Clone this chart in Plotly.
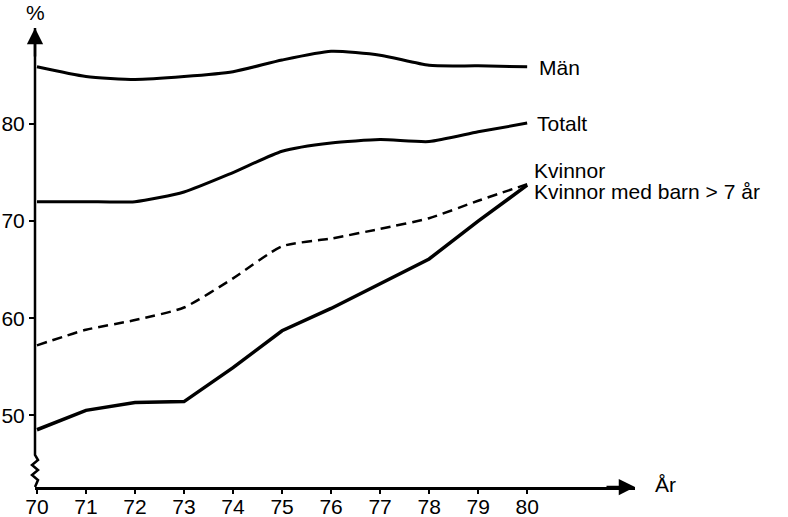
import plotly.graph_objects as go

years = [70, 71, 72, 73, 74, 75, 76, 77, 78, 79, 80]
man = [85.9, 84.9, 84.6, 84.9, 85.4, 86.6, 87.5, 87.1, 86.05, 86.0, 85.9]
totalt = [72.0, 72.0, 72.0, 73.0, 75.0, 77.2, 78.05, 78.4, 78.2, 79.2, 80.1]
kvinnor = [57.2, 58.8, 59.8, 61.1, 64.1, 67.4, 68.2, 69.2, 70.3, 72.1, 73.8]
kvinnor_barn = [48.5, 50.5, 51.3, 51.4, 54.9, 58.7, 61.0, 63.6, 66.1, 70.0, 73.7]

series_names = ["Män", "Totalt", "Kvinnor", "Kvinnor med barn > 7 år"]
y_ticks = [50, 60, 70, 80]
x_ticks = years

FONT = "Liberation Sans, Arial, sans-serif"
FS = 21

fig = go.Figure()
line = dict(color="black", width=3, shape="spline", smoothing=0.6)
fig.add_trace(go.Scatter(x=years, y=man, mode="lines", line=line, name=series_names[0]))
fig.add_trace(go.Scatter(x=years, y=totalt, mode="lines", line=line, name=series_names[1]))
fig.add_trace(go.Scatter(x=years, y=kvinnor, mode="lines",
                         line=dict(color="black", width=2.5, dash="10px,6px", shape="spline", smoothing=0.6),
                         name=series_names[2]))
fig.add_trace(go.Scatter(x=years, y=kvinnor_barn, mode="lines",
                         line=dict(color="black", width=3.5, shape="linear"), name=series_names[3]))

# line labels
fig.add_annotation(x=80.2, y=85.85, text=series_names[0], xref="x", yref="y",
                   xanchor="left", yanchor="middle", showarrow=False)
fig.add_annotation(x=80.16, y=80.1, text=series_names[1], xref="x", yref="y",
                   xanchor="left", yanchor="middle", showarrow=False)
fig.add_annotation(x=80.1, y=75.2, text=series_names[2], xref="x", yref="y",
                   xanchor="left", yanchor="middle", showarrow=False)
fig.add_annotation(x=80.1, y=73.1, text=series_names[3], xref="x", yref="y",
                   xanchor="left", yanchor="middle", showarrow=False)

# axis titles at arrow ends
fig.add_annotation(x=0, y=1.0, xref="paper", yref="paper", text="%", showarrow=False,
                   xanchor="center", yanchor="bottom", yshift=2)
fig.add_annotation(x=1.0, y=0, xref="paper", yref="paper", text="År", showarrow=False,
                   xanchor="left", yanchor="middle", xshift=18, yshift=3)

# arrows
fig.add_annotation(x=0, y=1.0, xref="paper", yref="paper", ax=0, ay=30,
                   showarrow=True, arrowhead=2, arrowsize=1.3, arrowwidth=2.5, arrowcolor="black", text="")
fig.add_annotation(x=1.0, y=0, xref="paper", yref="paper", ax=-30, ay=0,
                   showarrow=True, arrowhead=2, arrowsize=1.3, arrowwidth=2.5, arrowcolor="black", text="")

# y axis line with wavy break near bottom
h = 459.0
w = 600.0
def py(px):
    return (487 - px) / h
def pxx(d):
    return d / w
path = f"M 0 {py(28)} L 0 {py(455)}"
zig = [(3, 460), (-3, 465), (3, 470), (-3, 475), (3, 480), (0, 487)]
for dx, yy in zig:
    path += f" L {pxx(dx)} {py(yy)}"
fig.add_shape(type="path", path=path, xref="paper", yref="paper",
              line=dict(color="black", width=2.5))

fig.update_layout(
    width=788, height=517,
    margin=dict(l=35, r=153, t=28, b=30),
    paper_bgcolor="white", plot_bgcolor="white",
    showlegend=False,
    font=dict(family=FONT, size=FS, color="black"),
)
fig.update_xaxes(range=[69.96, 82.2], tickvals=x_ticks, ticktext=[str(v) for v in x_ticks],
                 automargin=False,
                 showgrid=False, zeroline=False, showline=True, linecolor="black", linewidth=2.5,
                 ticks="outside", ticklen=4, tickwidth=2, tickcolor="black",
                 ticklabelstandoff=-5,
                 tickfont=dict(family=FONT, size=FS, color="black"))
fig.update_yaxes(range=[42.6, 89.9], tickvals=y_ticks, ticktext=[str(v) for v in y_ticks],
                 automargin=False,
                 showgrid=False, zeroline=False, showline=False,
                 ticks="outside", ticklen=5, tickwidth=2, tickcolor="black",
                 tickfont=dict(family=FONT, size=FS, color="black"))

fig.write_html("out.html", config={"displayModeBar": False},
               post_script="document.body.style.margin='0';document.body.style.padding='0';")
